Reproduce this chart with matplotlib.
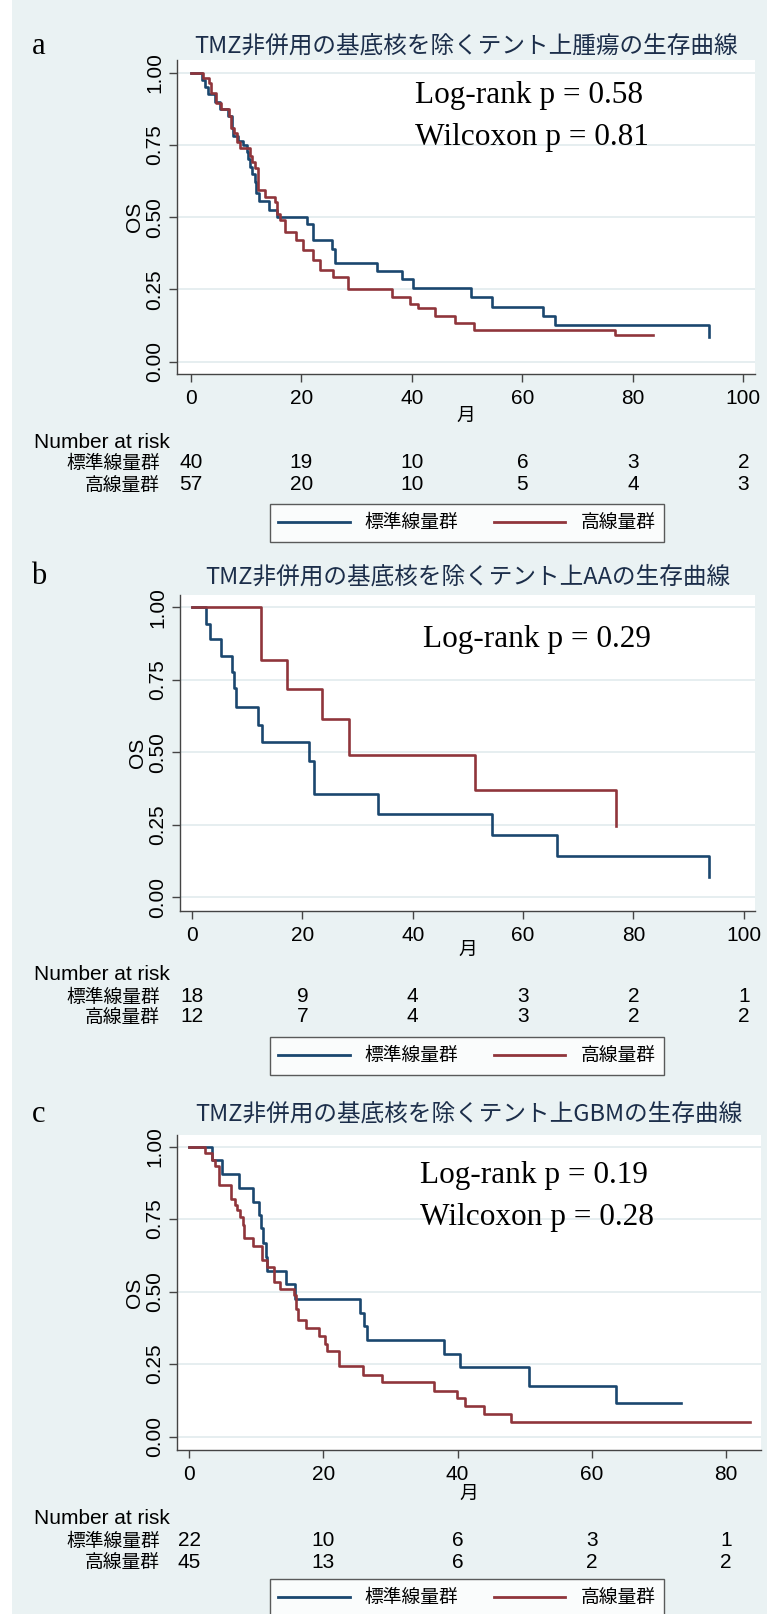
import matplotlib
matplotlib.use('Agg')
import matplotlib.pyplot as plt
from matplotlib import font_manager, transforms
from matplotlib.lines import Line2D
from matplotlib.patches import Rectangle

# --- survival data (months, KM estimate) ---
a_std_t = [0, 2.0, 2.6, 3.2, 4.4, 5.3, 6.8, 7.4, 7.7, 8.6, 9.5, 10.1, 10.4, 10.7, 11.0, 11.6,
           11.9, 12.4, 14.1, 15.6, 21.0, 22.1, 25.5, 26.1, 33.7, 38.2, 40.3, 50.7, 54.5, 63.8, 66.0, 93.8]
a_std_s = [1.0, 0.975, 0.95, 0.925, 0.9, 0.875, 0.85, 0.81, 0.78, 0.765, 0.75, 0.725, 0.70, 0.675, 0.65, 0.62,
           0.585, 0.555, 0.525, 0.50, 0.475, 0.42, 0.39, 0.34, 0.315, 0.285, 0.255, 0.225, 0.19, 0.158, 0.126, 0.086]
a_high_t = [0, 2.3, 3.3, 3.6, 4.6, 5.5, 7.0, 7.3, 7.8, 8.4, 9.0, 10.7, 11.0, 11.7, 12.2, 13.5, 15.3, 15.6,
            16.2, 17.1, 19.1, 20.4, 22.2, 23.4, 25.7, 28.5, 36.4, 39.7, 41.2, 44.2, 47.8, 51.2, 76.8, 83.7]
a_high_s = [1.0, 0.982, 0.964, 0.93, 0.894, 0.876, 0.85, 0.81, 0.79, 0.76, 0.74, 0.71, 0.69, 0.67, 0.594, 0.571, 0.553, 0.51,
            0.49, 0.45, 0.42, 0.386, 0.35, 0.317, 0.294, 0.25, 0.225, 0.2, 0.184, 0.158, 0.135, 0.109, 0.092, 0.092]

b_std_t = [0, 2.5, 3.2, 5.3, 7.2, 7.5, 7.9, 12.0, 12.6, 21.1, 22.1, 33.7, 54.4, 66.1, 93.8]
b_std_s = [1.0, 0.944, 0.889, 0.833, 0.778, 0.722, 0.655, 0.595, 0.535, 0.47, 0.357, 0.286, 0.214, 0.143, 0.071]
b_high_t = [0, 12.5, 17.2, 23.6, 28.4, 51.3, 76.8]
b_high_s = [1.0, 0.818, 0.717, 0.615, 0.49, 0.37, 0.246]

c_std_t = [0, 3.4, 4.9, 7.5, 9.6, 10.4, 10.7, 11.0, 11.5, 11.6, 14.4, 15.8, 25.4, 26.1, 26.5, 38.0, 40.3, 50.7, 63.6, 73.3]
c_std_s = [1.0, 0.955, 0.906, 0.856, 0.81, 0.765, 0.72, 0.667, 0.62, 0.572, 0.526, 0.476, 0.428, 0.38, 0.334, 0.286,
           0.239, 0.175, 0.115, 0.115]
c_high_t = [0, 2.4, 3.4, 3.9, 4.5, 6.3, 6.8, 7.2, 7.6, 8.0, 8.2, 9.6, 10.9, 11.6, 12.6, 13.6, 15.6, 15.9, 16.0, 16.3,
            17.4, 19.4, 20.2, 20.5, 22.4, 25.9, 28.7, 36.5, 39.9, 41.1, 44.0, 47.9, 83.6]
c_high_s = [1.0, 0.977, 0.955, 0.932, 0.868, 0.82, 0.80, 0.78, 0.756, 0.73, 0.684, 0.656, 0.61, 0.585, 0.533, 0.51, 0.488,
            0.465, 0.44, 0.403, 0.374, 0.346, 0.32, 0.297, 0.242, 0.214, 0.187, 0.158, 0.133, 0.107, 0.079, 0.052, 0.052]

# --- number at risk ---
a_risk_x = [0, 20, 40, 60, 80, 100]
a_risk_std = [40, 19, 10, 6, 3, 2]
a_risk_high = [57, 20, 10, 5, 4, 3]
b_risk_x = [0, 20, 40, 60, 80, 100]
b_risk_std = [18, 9, 4, 3, 2, 1]
b_risk_high = [12, 7, 4, 3, 2, 2]
c_risk_x = [0, 20, 40, 60, 80]
c_risk_std = [22, 10, 6, 3, 1]
c_risk_high = [45, 13, 6, 2, 2]

titles = ['TMZ非併用の基底核を除くテント上腫瘍の生存曲線',
          'TMZ非併用の基底核を除くテント上AAの生存曲線',
          'TMZ非併用の基底核を除くテント上GBMの生存曲線']
pvals_a = ['Log-rank p = 0.58', 'Wilcoxon p = 0.81']
pvals_b = ['Log-rank p = 0.29']
pvals_c = ['Log-rank p = 0.19', 'Wilcoxon p = 0.28']
group_names = ['標準線量群', '高線量群']

W, H = 767, 1614
BLUE = '#1A476F'
RED = '#90353B'
BG = '#EAF2F3'
AXC = '#444444'

available = {f.name for f in font_manager.fontManager.ttflist}
narrow = 'Liberation Sans Narrow' if 'Liberation Sans Narrow' in available else 'Liberation Sans'
SANS = [narrow, 'Noto Sans CJK JP', 'DejaVu Sans']
CJK = ['Noto Sans CJK JP', 'DejaVu Sans']
SERIF = ['Liberation Serif', 'DejaVu Serif']
plt.rcParams['font.family'] = SANS


def fx(x):
    return x / W


def fy(y):
    return 1 - y / H


fig = plt.figure(figsize=(W / 100, H / 100), dpi=100, facecolor=BG)
fig.patches.append(Rectangle((0, 0), fx(12), 1, transform=fig.transFigure,
                             facecolor='white', edgecolor='none'))


def panel(letter, title, box, xlim, ylim, xticks, std, high, risk, pvals, ys):
    l, t, r, b = box
    ax = fig.add_axes([fx(l), fy(b), (r - l) / W, (b - t) / H])
    ax.set_facecolor('white')
    ax.step(std[0], std[1], where='post', color=BLUE, lw=1.9)
    ax.step(high[0], high[1], where='post', color=RED, lw=1.9)
    ax.set_xlim(*xlim)
    ax.set_ylim(*ylim)
    ax.set_xticks(xticks)
    ax.set_yticks([0, 0.25, 0.5, 0.75, 1.0])
    ax.set_yticklabels(['0.00', '0.25', '0.50', '0.75', '1.00'], rotation=90, va='center')
    ax.grid(axis='y', color='#E6EEF0', lw=1.4)
    ax.set_axisbelow(True)
    for s in ('top', 'right'):
        ax.spines[s].set_visible(False)
    for s in ('left', 'bottom'):
        ax.spines[s].set_color(AXC)
        ax.spines[s].set_linewidth(1.0)
    ax.tick_params(direction='out', length=6, width=1, colors=AXC, labelcolor='black',
                   labelsize=15, pad=3)
    ax.tick_params(axis='x', pad=5)

    cx = fx((l + r) / 2)
    fig.text(cx, fy(ys['title']), title, ha='center', va='center', fontsize=17,
             family=CJK, color='#1C2E4A')
    fig.text(fx(39), fy(ys['title']), letter, ha='center', va='center', fontsize=22,
             family=SERIF, color='black')
    ax.set_ylabel('OS', fontsize=15, labelpad=1)
    fig.text(cx, fy(ys['xlab']), '月', ha='center', va='center', fontsize=13.5, family=CJK)

    for i, p in enumerate(pvals):
        fig.text(fx(ys['px']), fy(ys['p'][i]), p, ha='left', va='baseline', fontsize=22.5,
                 family=SERIF, color='black')

    # number at risk table
    trans = transforms.blended_transform_factory(ax.transData, fig.transFigure)
    fig.text(fx(34), fy(ys['nar']), 'Number at risk', ha='left', va='center', fontsize=15)
    for row, name, counts in ((ys['r1'], group_names[0], risk[1]), (ys['r2'], group_names[1], risk[2])):
        fig.text(fx(160), fy(row), name, ha='right', va='center', fontsize=13.5, family=CJK)
        for xv, n in zip(risk[0], counts):
            ax.text(xv, fy(row), str(n), transform=trans, ha='center', va='center', fontsize=15,
                    clip_on=False)

    handles = [Line2D([], [], color=BLUE, lw=2), Line2D([], [], color=RED, lw=2)]
    leg = fig.legend(handles, group_names, loc='upper left', bbox_to_anchor=(fx(270), fy(ys['leg'])),
                     bbox_transform=fig.transFigure, ncol=2, frameon=True, fancybox=False,
                     borderaxespad=0, borderpad=0.45, handlelength=3.8, handletextpad=0.8,
                     columnspacing=1.9, prop={'family': CJK, 'size': 13.5})
    leg.get_frame().set_edgecolor('#333333')
    leg.get_frame().set_linewidth(1.0)
    leg.get_frame().set_facecolor('white')
    return ax


panel('a', titles[0], (177, 60, 755, 374), (-2.48, 102.1), (-0.043, 1.044), [0, 20, 40, 60, 80, 100],
      (a_std_t, a_std_s), (a_high_t, a_high_s), (a_risk_x, a_risk_std, a_risk_high), pvals_a,
      {'title': 46, 'xlab': 415, 'nar': 443, 'r1': 463, 'r2': 485, 'leg': 504,
       'px': 415, 'p': [103, 145]})
panel('b', titles[1], (180, 595, 755, 911), (-2.2, 102.05), (-0.048, 1.0425), [0, 20, 40, 60, 80, 100],
      (b_std_t, b_std_s), (b_high_t, b_high_s), (b_risk_x, b_risk_std, b_risk_high), pvals_b,
      {'title': 577, 'xlab': 949, 'nar': 975, 'r1': 997, 'r2': 1017, 'leg': 1037,
       'px': 423, 'p': [647]})
panel('c', titles[2], (177, 1135, 761, 1450), (-1.79, 85.2), (-0.046, 1.040), [0, 20, 40, 60, 80],
      (c_std_t, c_std_s), (c_high_t, c_high_s), (c_risk_x, c_risk_std, c_risk_high), pvals_c,
      {'title': 1114, 'xlab': 1493, 'nar': 1518, 'r1': 1541, 'r2': 1562, 'leg': 1579,
       'px': 420, 'p': [1183, 1225]})

fig.savefig('out.png', dpi=100, facecolor=fig.get_facecolor())
